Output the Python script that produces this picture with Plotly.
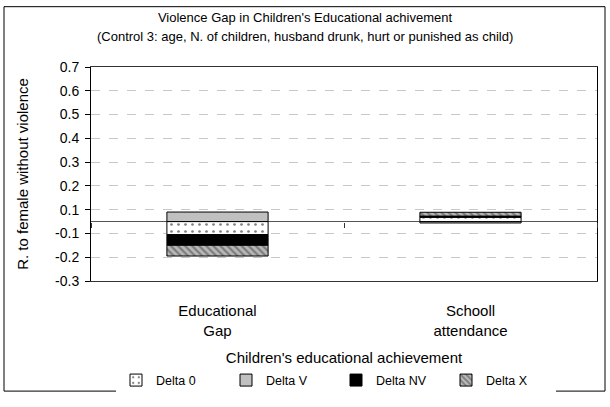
import plotly.graph_objects as go

categories = ["Educational<br>Gap", "Schooll<br>attendance"]
delta_0 = [-0.055, 0.018]
delta_v = [0.04, -0.006]
delta_nv = [-0.045, 0.005]
delta_x = [-0.045, 0.016]

tick_vals = [-0.25, -0.15, -0.05, 0.05, 0.15, 0.25, 0.35, 0.45, 0.55, 0.65]
tick_text = ["-0.3", "-0.2", "-0.1", "0.1", "0.2", "0.3", "0.4", "0.5", "0.6", "0.7"]
y_range = [-0.25, 0.65]

FONT = "Liberation Sans, Arial, sans-serif"
line = dict(color="black", width=1)

fig = go.Figure()
fig.add_trace(go.Bar(
    name="Delta 0", x=categories, y=delta_0,
    marker=dict(color="white", line=line,
                pattern=dict(shape=".", bgcolor="white", fgcolor="black",
                             size=7, solidity=0.12)),
))
fig.add_trace(go.Bar(
    name="Delta V", x=categories, y=delta_v,
    marker=dict(color="#c0c0c0", line=line),
))
fig.add_trace(go.Bar(
    name="Delta NV", x=categories, y=delta_nv,
    marker=dict(color="black", line=line),
))
fig.add_trace(go.Bar(
    name="Delta X", x=categories, y=delta_x,
    marker=dict(color="#b0b0b0", line=line,
                pattern=dict(shape="\\", bgcolor="#b8b8b8", fgcolor="#404040",
                             size=5, solidity=0.45)),
))
# invisible helper trace for the category-boundary tick on the zero line
fig.add_trace(go.Scatter(
    x=categories, y=[0, 0], xaxis="x2", mode="markers",
    marker=dict(opacity=0), showlegend=False, hoverinfo="skip",
))

zero_pos = (0 - y_range[0]) / (y_range[1] - y_range[0])

fig.update_layout(
    width=610, height=407,
    margin=dict(l=91, r=13, t=67, b=119),
    paper_bgcolor="white", plot_bgcolor="white",
    font=dict(family=FONT, color="black"),
    barmode="relative", bargap=0.6,
    title=dict(text="Violence Gap in Children's Educational achivement",
               x=0.5, xanchor="center", y=1 - 17 / 407, yanchor="middle",
               font=dict(size=13, family=FONT, color="black")),
    xaxis=dict(
        type="category", range=[-0.5, 1.5], automargin=False,
        showline=True, linecolor="#333333", linewidth=1, mirror=True,
        ticks="", showgrid=False,
        tickfont=dict(size=15), ticklabelstandoff=16,
        title=dict(text="Children's educational achievement",
                   font=dict(size=15), standoff=14),
    ),
    xaxis2=dict(
        type="category", range=[-0.5, 1.5], overlaying="x",
        anchor="free", position=zero_pos, side="bottom",
        showline=False, showgrid=False, showticklabels=False,
        ticks="outside", ticklen=5, tickcolor="#333333",
        tickson="boundaries", categoryorder="array", categoryarray=categories,
    ),
    yaxis=dict(
        range=y_range, tickvals=tick_vals, ticktext=tick_text, automargin=False,
        showline=True, linecolor="black", linewidth=1, mirror=True,
        ticks="outside", ticklen=5, tickcolor="black",
        showgrid=True, gridcolor="#c8c8c8", griddash="dash", gridwidth=1,
        zeroline=True, zerolinecolor="#555555", zerolinewidth=1,
        tickfont=dict(size=14), ticklabelstandoff=3,
        title=dict(text="R. to female without violence", font=dict(size=15),
                   standoff=22),
    ),
    legend=dict(
        orientation="h", x=(336 - 91) / 506, xanchor="center",
        y=(288.3 - 391) / 221, yanchor="middle",
        font=dict(size=12.5), traceorder="normal",
        entrywidth=65, entrywidthmode="pixels",
    ),
    annotations=[dict(
        text="(Control 3: age, N. of children, husband drunk, hurt or punished as child)",
        xref="paper", yref="paper", x=(305 - 91) / 506, y=1 + (67.3 - 36) / 221,
        xanchor="center", yanchor="middle", showarrow=False,
        font=dict(size=13, family=FONT, color="black"),
    )],
    shapes=[dict(
        type="rect", xref="paper", yref="paper",
        x0=(4 - 91) / 506, x1=(605 - 91) / 506,
        y0=(288.3 - 402) / 221, y1=(288.3 - 5) / 221,
        line=dict(color="black", width=1), fillcolor="rgba(0,0,0,0)",
        layer="below",
    )],
)

fig.write_html("out.html")
